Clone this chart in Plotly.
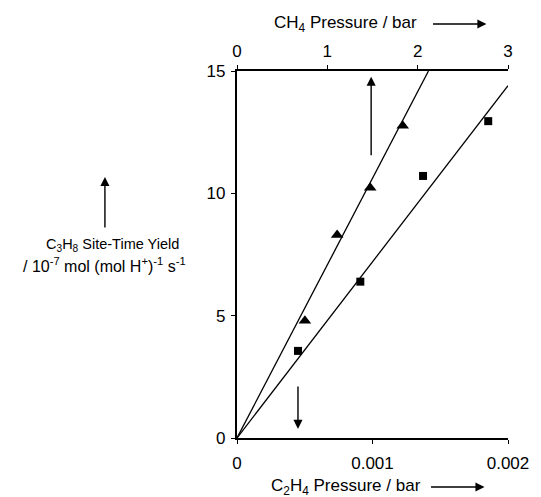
import plotly.graph_objects as go

# --- data ---
tri_x = [0.000501, 0.000739, 0.000983, 0.001223]   # C2H4 pressure / bar
tri_y = [4.79, 8.30, 10.23, 12.76]
sq_x = [0.000450, 0.000910, 0.001373, 0.001854]
sq_y = [3.56, 6.39, 10.71, 12.95]
tri_fit_x = [0, 0.001413]
tri_fit_y = [0, 15.0]
sq_fit_x = [0, 0.002]
sq_fit_y = [0, 14.4]

x_ticks = [0, 0.001, 0.002]
x_ticktext = ["0", "0.001", "0.002"]
x2_ticks = [0, 1, 2, 3]
x2_ticktext = ["0", "1", "2", "3"]
y_ticks = [0, 5, 10, 15]
y_ticktext = ["0", "5", "10", "15"]

FONT = "Arial, Liberation Sans, sans-serif"
W, H = 541, 497
L, R, T, B = 237, 27, 71, 59
pw = W - L - R
ph = H - T - B

def px(xpix):
    return (xpix - L) / pw

def py(ypix):
    return (H - B - ypix) / ph

fig = go.Figure()
fig.add_trace(go.Scatter(x=tri_fit_x, y=tri_fit_y, mode="lines",
                         line=dict(color="black", width=1.3), showlegend=False, cliponaxis=False))
fig.add_trace(go.Scatter(x=sq_fit_x, y=sq_fit_y, mode="lines",
                         line=dict(color="black", width=1.3), showlegend=False))
fig.add_trace(go.Scatter(x=tri_x, y=tri_y, mode="markers",
                         marker=dict(symbol="triangle-up", size=11, color="black"), showlegend=False))
fig.add_trace(go.Scatter(x=sq_x, y=sq_y, mode="markers",
                         marker=dict(symbol="square", size=8, color="black"), showlegend=False))
# dummy trace to activate the top axis
fig.add_trace(go.Scatter(x=[0, 3], y=[0, 0], xaxis="x2", mode="lines",
                         line=dict(width=0), hoverinfo="skip", showlegend=False, opacity=0))

axis_common = dict(showgrid=False, zeroline=False, showline=True, linecolor="black",
                   ticks="outside", ticklen=4, tickcolor="black", tickwidth=1.3,
                   tickfont=dict(family=FONT, size=17, color="black"))

fig.update_layout(
    width=W, height=H,
    margin=dict(l=L, r=R, t=T, b=B),
    paper_bgcolor="white", plot_bgcolor="white",
    font=dict(family=FONT, color="black"),
    xaxis=dict(range=[0, 0.002], tickvals=x_ticks, ticktext=x_ticktext,
               linewidth=1.5, ticklabelstandoff=5, **axis_common),
    xaxis2=dict(range=[0, 3], tickvals=x2_ticks, ticktext=x2_ticktext, overlaying="x",
                side="top", linewidth=1.8, ticklabelstandoff=1, **axis_common),
    yaxis=dict(range=[0, 15], tickvals=y_ticks, ticktext=y_ticktext,
               linewidth=2.2, ticklabelstandoff=2, **axis_common),
)

ann = []
# axis titles
ann.append(dict(text="CH<sub>4</sub> Pressure / bar", xref="paper", yref="paper",
                x=px(423), y=py(24), xanchor="right", yanchor="middle", showarrow=False,
                font=dict(family=FONT, size=17, color="black")))
ann.append(dict(text="C<sub>2</sub>H<sub>4</sub> Pressure / bar", xref="paper", yref="paper",
                x=px(427), y=py(487), xanchor="right", yanchor="middle", showarrow=False,
                font=dict(family=FONT, size=17, color="black")))
for xx, yy in ((492, 24), (490, 487)):
    ann.append(dict(text="", xref="paper", yref="paper", x=px(xx), y=py(yy),
                    ax=-55, ay=0, showarrow=True, arrowhead=2, arrowsize=1.3,
                    arrowwidth=1.4, arrowcolor="black"))
# left label
ann.append(dict(text="C<sub>3</sub>H<sub>8</sub> Site-Time Yield",
                xref="paper", yref="paper", x=px(110), y=py(245), xanchor="center",
                yanchor="middle", showarrow=False,
                font=dict(family=FONT, size=14.5, color="black")))
ann.append(dict(text="/ 10<sup>-7</sup> mol (mol H<sup>+</sup>)<sup>-1</sup> s<sup>-1</sup>",
                xref="paper", yref="paper", x=px(102), y=py(265), xanchor="center",
                yanchor="middle", showarrow=False,
                font=dict(family=FONT, size=16, color="black")))
ann.append(dict(text="", xref="paper", yref="paper", x=px(102), y=py(177),
                ax=0, ay=52, showarrow=True, arrowhead=2, arrowsize=1.3,
                arrowwidth=1.4, arrowcolor="black"))
# arrows inside the plot
ann.append(dict(text="", x=0.00099, y=14.77, ax=0.00099, ay=11.5, axref="x", ayref="y",
                xref="x", yref="y", showarrow=True, arrowhead=2, arrowsize=1.3,
                arrowwidth=1.4, arrowcolor="black"))
ann.append(dict(text="", x=0.00045, y=0.37, ax=0.00045, ay=2.17, axref="x", ayref="y",
                xref="x", yref="y", showarrow=True, arrowhead=2, arrowsize=1.3,
                arrowwidth=1.4, arrowcolor="black"))
fig.update_layout(annotations=ann)

fig.write_html("out.html")
